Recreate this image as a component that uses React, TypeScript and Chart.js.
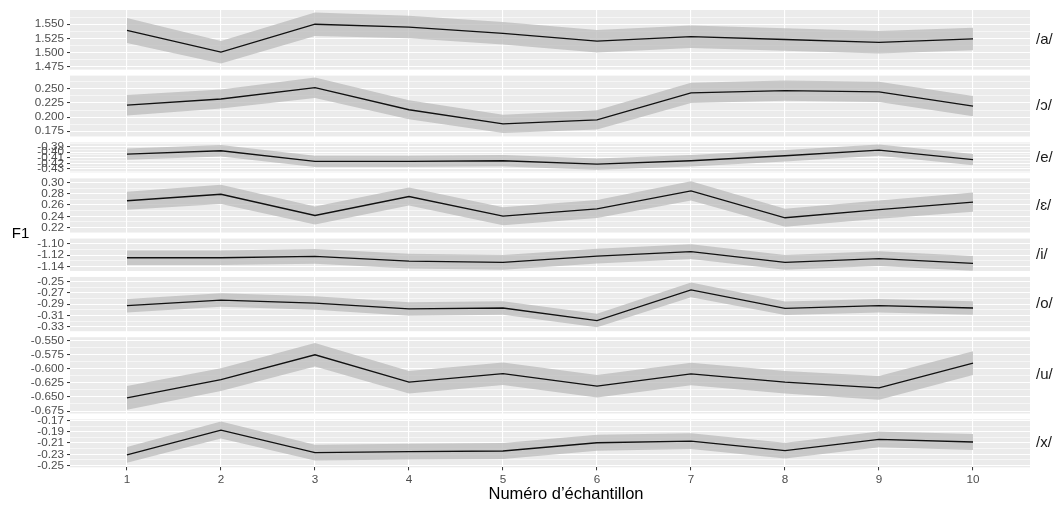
import React, { useEffect, useRef } from 'react';
import Chart from 'chart.js/auto';

// ---------- data ----------
const xLabels = ['1', '2', '3', '4', '5', '6', '7', '8', '9', '10'];
const xValues = [1, 2, 3, 4, 5, 6, 7, 8, 9, 10];
const panelNames = ['/a/', '/ɔ/', '/e/', '/ɛ/', '/i/', '/o/', '/u/', '/x/'];

const aMean = [1.539, 1.5005, 1.550, 1.545, 1.534, 1.520, 1.528, 1.523, 1.518, 1.524];
const aHalf = [0.022, 0.020, 0.021, 0.020, 0.020, 0.020, 0.020, 0.020, 0.020, 0.020];
const oOpenMean = [0.221, 0.232, 0.252, 0.213, 0.188, 0.195, 0.243, 0.247, 0.2445, 0.2195];
const oOpenHalf = [0.018, 0.017, 0.018, 0.017, 0.016, 0.017, 0.018, 0.018, 0.018, 0.018];
const eMean = [-0.4035, -0.3976, -0.4165, -0.4165, -0.4153, -0.4212, -0.4153, -0.4065, -0.3964, -0.4135];
const eHalf = [0.010, 0.010, 0.010, 0.010, 0.010, 0.010, 0.010, 0.010, 0.010, 0.010];
const epsMean = [0.2675, 0.279, 0.2414, 0.275, 0.2402, 0.253, 0.285, 0.2374, 0.2518, 0.2652];
const epsHalf = [0.016, 0.017, 0.016, 0.016, 0.016, 0.016, 0.017, 0.016, 0.016, 0.017];
const iMean = [-1.1245, -1.1245, -1.1222, -1.1305, -1.1328, -1.1217, -1.1138, -1.1328, -1.1262, -1.1345];
const iHalf = [0.013, 0.013, 0.013, 0.013, 0.013, 0.013, 0.013, 0.013, 0.013, 0.013];
const oMean = [-0.2926, -0.2826, -0.2879, -0.2984, -0.2967, -0.3189, -0.2646, -0.2973, -0.2926, -0.2967];
const oHalf = [0.012, 0.012, 0.012, 0.012, 0.012, 0.012, 0.013, 0.012, 0.012, 0.012];
const uMean = [-0.6516, -0.6193, -0.5753, -0.6239, -0.6088, -0.631, -0.6093, -0.6239, -0.634, -0.590];
const uHalf = [0.021, 0.020, 0.021, 0.020, 0.020, 0.020, 0.020, 0.020, 0.021, 0.021];
const xMean = [-0.2311, -0.1871, -0.2271, -0.2253, -0.2241, -0.2095, -0.2065, -0.2236, -0.2035, -0.2082];
const xHalf = [0.014, 0.015, 0.014, 0.014, 0.014, 0.014, 0.014, 0.014, 0.014, 0.014];

const aTicks = [1.475, 1.5, 1.525, 1.55];
const aTickLabels = ['1.475', '1.500', '1.525', '1.550'];
const oOpenTicks = [0.175, 0.2, 0.225, 0.25];
const oOpenTickLabels = ['0.175', '0.200', '0.225', '0.250'];
const eTicks = [-0.43, -0.42, -0.41, -0.40, -0.39];
const eTickLabels = ['-0.43', '-0.42', '-0.41', '-0.40', '-0.39'];
const epsTicks = [0.22, 0.24, 0.26, 0.28, 0.30];
const epsTickLabels = ['0.22', '0.24', '0.26', '0.28', '0.30'];
const iTicks = [-1.14, -1.12, -1.10];
const iTickLabels = ['-1.14', '-1.12', '-1.10'];
const oTicks = [-0.33, -0.31, -0.29, -0.27, -0.25];
const oTickLabels = ['-0.33', '-0.31', '-0.29', '-0.27', '-0.25'];
const uTicks = [-0.675, -0.65, -0.625, -0.6, -0.575, -0.55];
const uTickLabels = ['-0.675', '-0.650', '-0.625', '-0.600', '-0.575', '-0.550'];
const xTicks = [-0.25, -0.23, -0.21, -0.19, -0.17];
const xTickLabels = ['-0.25', '-0.23', '-0.21', '-0.19', '-0.17'];

// panel y limits (free y scales)
const panelMin = [1.4697, 0.1657, -0.436, 0.2112, -1.1479, -0.3378, -0.6792, -0.253];
const panelMax = [1.5752, 0.2735, -0.3829, 0.3071, -1.0905, -0.2417, -0.5442, -0.1682];

const panelMeans = [aMean, oOpenMean, eMean, epsMean, iMean, oMean, uMean, xMean];
const panelHalves = [aHalf, oOpenHalf, eHalf, epsHalf, iHalf, oHalf, uHalf, xHalf];
const panelTicks = [aTicks, oOpenTicks, eTicks, epsTicks, iTicks, oTicks, uTicks, xTicks];
const panelTickLabels = [aTickLabels, oOpenTickLabels, eTickLabels, epsTickLabels, iTickLabels, oTickLabels, uTickLabels, xTickLabels];

// ---------- layout ----------
const W = 1060;
const H = 507;
const CHART_TOP = 9;
const CHART_RIGHT_PAD = 30;
const AXIS_W = 70;
const XAXIS_H = 39.7;
const GAP = 6;
const FONT = '"Liberation Sans", Arial, Helvetica, sans-serif';

export default function App() {
  const ref = useRef<HTMLCanvasElement | null>(null);

  useEffect(() => {
    if (!ref.current) return;
    const chartH = H - XAXIS_H - CHART_TOP;
    const ranges = panelMin.map((m, i) => panelMax[i] - m);
    const S = ranges.reduce((s, v) => s + v, 0);
    const k = (chartH - GAP * (panelNames.length - 1)) / S;
    const gU = GAP / 2 / k;

    const datasets: any[] = [];
    const scales: any = {};
    panelNames.forEach((name, i) => {
      const id = 'y' + i;
      const mean = panelMeans[i];
      const half = panelHalves[i];
      datasets.push({
        label: name + ' low',
        data: xValues.map((x, j) => ({ x, y: mean[j] - half[j] })),
        yAxisID: id,
        order: 2,
        borderWidth: 0,
        pointRadius: 0,
        fill: false,
        borderColor: 'rgba(0,0,0,0)',
      });
      datasets.push({
        label: name + ' high',
        data: xValues.map((x, j) => ({ x, y: mean[j] + half[j] })),
        yAxisID: id,
        order: 2,
        borderWidth: 0,
        pointRadius: 0,
        fill: '-1',
        borderColor: 'rgba(0,0,0,0)',
        backgroundColor: 'rgba(185,185,185,0.72)',
      });
      datasets.push({
        label: name,
        data: xValues.map((x, j) => ({ x, y: mean[j] })),
        yAxisID: id,
        order: 0,
        borderWidth: 1.3,
        borderColor: '#111111',
        pointRadius: 0,
        fill: false,
      });

      const lo = panelMin[i] - (i < panelNames.length - 1 ? gU : 0);
      const hi = panelMax[i] + (i > 0 ? gU : 0);
      const majors = panelTicks[i];
      const labels = panelTickLabels[i];
      const step = majors[1] - majors[0];
      const minors: number[] = [];
      for (let t = 0; t < majors.length - 1; t++) minors.push((majors[t] + majors[t + 1]) / 2);
      if (majors[0] - step / 2 >= panelMin[i]) minors.push(majors[0] - step / 2);
      if (majors[majors.length - 1] + step / 2 <= panelMax[i]) minors.push(majors[majors.length - 1] + step / 2);

      scales[id] = {
        type: 'linear',
        position: 'left',
        stack: 'panels',
        stackWeight: hi - lo,
        weight: 100 - i,
        min: lo,
        max: hi,
        border: { display: false },
        afterBuildTicks: (s: any) => {
          const t: any[] = majors.map((v, idx) => ({ value: v, label: labels[idx], minor: false }));
          minors.forEach((v) => t.push({ value: v, minor: true }));
          s.ticks = t;
        },
        afterFit: (s: any) => {
          s.width = AXIS_W;
        },
        grid: {
          color: '#ffffff',
          lineWidth: (c: any) => (c.tick && c.tick.minor ? 0.55 : 1.1),
          tickLength: 3,
          tickColor: (c: any) => (c.tick && c.tick.minor ? 'rgba(0,0,0,0)' : '#333333'),
          tickWidth: 1,
        },
        ticks: {
          autoSkip: false,
          padding: 3,
          color: '#4d4d4d',
          font: { family: FONT, size: 11.7 },
          callback: (_v: any, idx: number, ticksArr: any[]) => {
            const tk = ticksArr[idx];
            return tk && !tk.minor ? tk.label : '';
          },
        },
      };
    });

    scales.x = {
      type: 'linear',
      position: 'bottom',
      min: 0.394,
      max: 10.606,
      border: { display: false },
      afterBuildTicks: (s: any) => {
        s.ticks = xValues.map((v) => ({ value: v }));
      },
      afterFit: (s: any) => {
        s.height = XAXIS_H;
      },
      grid: {
        color: '#ffffff',
        lineWidth: 1.1,
        tickLength: 3,
        tickColor: '#333333',
        tickWidth: 1,
      },
      ticks: {
        autoSkip: false,
        maxRotation: 0,
        padding: 2,
        color: '#4d4d4d',
        font: { family: FONT, size: 11.7 },
        callback: (_v: any, idx: number) => xLabels[idx],
      },
    };

    const bgPlugin = {
      id: 'panelBg',
      beforeDraw(chart: any) {
        const { ctx, chartArea } = chart;
        ctx.save();
        ctx.fillStyle = '#ebebeb';
        panelNames.forEach((_n, i) => {
          const s = chart.scales['y' + i];
          const top = s.getPixelForValue(panelMax[i]);
          const bottom = s.getPixelForValue(panelMin[i]);
          ctx.fillRect(chartArea.left, top, chartArea.right - chartArea.left, bottom - top);
        });
        ctx.restore();
      },
      afterDraw(chart: any) {
        const { ctx } = chart;
        ctx.save();
        ctx.fillStyle = '#1a1a1a';
        ctx.textBaseline = 'middle';
        ctx.textAlign = 'left';
        ctx.font = `15px ${FONT}`;
        panelNames.forEach((n, i) => {
          const s = chart.scales['y' + i];
          const cy = (s.getPixelForValue(panelMax[i]) + s.getPixelForValue(panelMin[i])) / 2;
          ctx.fillText(n, 1036, cy);
        });
        ctx.fillStyle = '#000000';
        ctx.font = `15px ${FONT}`;
        ctx.textAlign = 'center';
        ctx.fillText('F1', 20.5, 234);
        ctx.font = `16.5px ${FONT}`;
        ctx.fillText('Numéro d’échantillon', 566, 494);
        ctx.restore();
      },
    };

    const chart = new Chart(ref.current, {
      type: 'line',
      data: { datasets },
      options: {
        animation: false,
        responsive: false,
        devicePixelRatio: 1,
        layout: { padding: { top: CHART_TOP, right: CHART_RIGHT_PAD, left: 0, bottom: 0 } },
        plugins: {
          legend: { display: false },
          tooltip: { enabled: false },
        },
        scales,
      },
      plugins: [bgPlugin],
    });
    return () => chart.destroy();
  }, []);

  return (
    <div style={{ position: 'fixed', left: 0, top: 0, width: W, height: H, background: '#ffffff' }}>
      <canvas ref={ref} width={W} height={H} style={{ width: W, height: H }} />
    </div>
  );
}
